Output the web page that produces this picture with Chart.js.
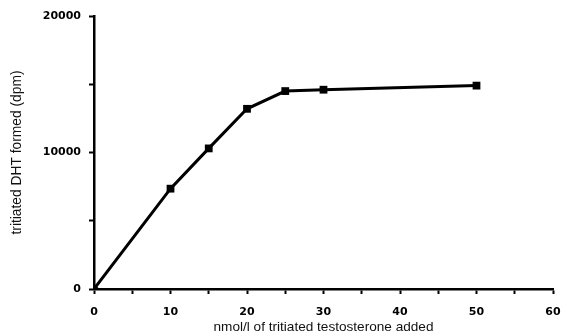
<!DOCTYPE html>
<html>
<head>
<meta charset="utf-8">
<script src="https://cdn.jsdelivr.net/npm/chart.js@4"></script>
<style>
  html, body { margin: 0; padding: 0; background: #fff; }
  #wrap { width: 561px; height: 335px; }
</style>
</head>
<body>
<div id="wrap"><canvas id="dhtChart" width="561" height="335"></canvas></div>
<script>
// ---------------- Data ----------------
const testosterone = [0, 10, 15, 20, 25, 30, 50];            // nmol/l added
const dhtFormed = [0, 7350, 10300, 13200, 14500, 14600, 14900]; // dpm
const xLabelTicks = [0, 10, 20, 30, 40, 50, 60];
const yLabelTicks = [0, 10000, 20000];

const points = testosterone.map((x, i) => ({ x: x, y: dhtFormed[i] }));

// ---------------- Chart ----------------
const ctx = document.getElementById("dhtChart").getContext("2d");
const chart = new Chart(ctx, {
  type: "scatter",
  data: {
    datasets: [
      {
        data: points,
        showLine: true,
        borderColor: "#000",
        borderWidth: 3,
        backgroundColor: "#000",
        pointStyle: points.map((p, i) => (i === 0 ? "rectRot" : "rect")),
        pointRadius: 5.5,
        pointBorderWidth: 0,
      },
    ],
  },
  options: {
    responsive: false,
    animation: false,
    layout: { padding: { left: 0, right: 0, top: 16, bottom: 0 } },
    plugins: { legend: { display: false }, tooltip: { enabled: false } },
    scales: {
      x: {
        type: "linear",
        min: 0,
        max: 60,
        afterFit: (s) => { s.height = 46; s.paddingRight = 8; },
        border: { color: "#000", width: 2.5 },
        grid: { drawOnChartArea: false, drawTicks: true, tickLength: 5, tickColor: "#000", tickWidth: 2 },
        ticks: {
          stepSize: 5,
          padding: 12,
          color: "#000",
          font: { family: "'DejaVu Sans'", size: 11, weight: "bold" },
          callback: (v) => (xLabelTicks.includes(v) ? String(v) : ""),
        },
        title: {
          display: true,
          text: "nmol/l of tritiated testosterone added",
          color: "#111",
          font: { family: "'Liberation Sans'", size: 13.6 },
          padding: { top: 0, bottom: 0 },
        },
      },
      y: {
        type: "linear",
        min: 0,
        max: 20000,
        afterFit: (s) => { s.width = 94; },
        border: { color: "#000", width: 2.5 },
        grid: { drawOnChartArea: false, drawTicks: true, tickLength: 5, tickColor: "#000", tickWidth: 2 },
        ticks: {
          stepSize: 5000,
          padding: 8,
          color: "#000",
          font: { family: "'DejaVu Sans'", size: 11, weight: "bold" },
          callback: (v) => (yLabelTicks.includes(v) ? String(v) : ""),
        },
        title: {
          display: true,
          text: "tritiated DHT formed (dpm)",
          color: "#111",
          font: { family: "'Liberation Sans'", size: 13.8 },
          padding: { top: 9, bottom: 0 },
        },
      },
    },
  },
});
</script>
</body>
</html>
